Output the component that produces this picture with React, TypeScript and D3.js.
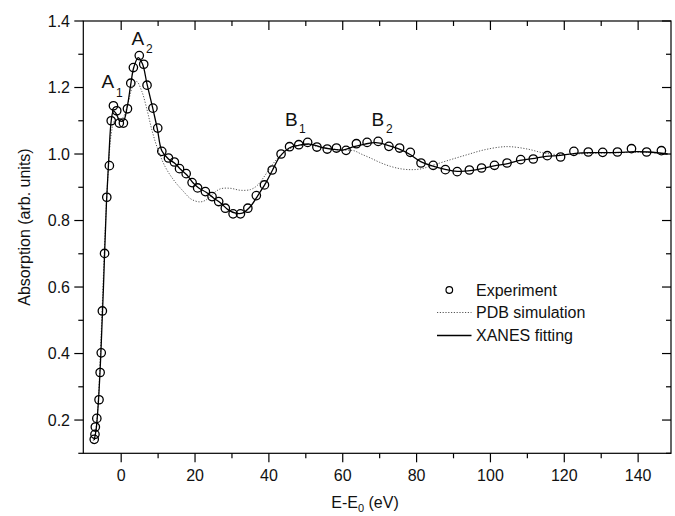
import React from "react";
import * as d3 from "d3";

const expX = [-7.3,-7.1,-7.0,-6.6,-6.0,-5.7,-5.4,-5.1,-4.5,-3.9,-3.2,-2.7,-2.1,-1.2,-0.5,0.6,1.7,2.6,3.3,4.9,6.1,7.0,8.6,9.9,11.0,12.8,14.4,15.8,17.6,19.2,20.7,22.8,24.6,26.4,28.2,30.3,32.3,34.3,36.6,38.8,40.9,43.3,45.6,48.1,50.5,53.0,55.8,58.3,60.9,63.7,66.6,69.6,72.5,75.4,78.3,81.2,84.5,87.8,91.0,94.3,97.6,101.1,104.5,108.2,111.6,115.4,119.0,122.6,126.5,130.4,134.4,138.2,142.3,146.3];
const expY = [0.142,0.157,0.179,0.205,0.261,0.343,0.402,0.528,0.701,0.870,0.965,1.100,1.145,1.130,1.093,1.093,1.136,1.213,1.260,1.296,1.270,1.207,1.138,1.078,1.008,0.988,0.976,0.956,0.941,0.914,0.898,0.887,0.872,0.857,0.837,0.820,0.820,0.837,0.875,0.907,0.952,1.000,1.022,1.028,1.035,1.021,1.015,1.018,1.011,1.031,1.035,1.038,1.023,1.018,1.005,0.973,0.966,0.953,0.947,0.952,0.958,0.966,0.973,0.983,0.985,0.995,0.991,1.008,1.006,1.005,1.006,1.016,1.006,1.010];

const fitX = [-7.3,-6.8,-6.2,-5.5,-4.8,-4.0,-3.3,-2.7,-2.1,-1.3,-0.4,0.6,1.6,2.6,3.4,4.6,5.8,7.0,8.5,9.8,11.0,12.8,14.5,16,17.8,19.5,21,23,25,27,29,31,33,35,37,39,41,43,45.5,48,51,54,57,60,63,66,69,72,75,78,81,84,88,91,95,98,101,105,108,112,115,119,123,127,131,135,139,143,148];
const fitY = [0.14,0.17,0.25,0.40,0.60,0.85,1.0,1.10,1.13,1.12,1.10,1.10,1.14,1.21,1.26,1.29,1.27,1.21,1.14,1.075,1.01,0.985,0.972,0.955,0.937,0.913,0.898,0.885,0.868,0.852,0.832,0.822,0.823,0.842,0.875,0.91,0.952,0.993,1.018,1.026,1.03,1.021,1.015,1.012,1.022,1.03,1.034,1.027,1.016,1.0,0.978,0.965,0.953,0.948,0.951,0.957,0.964,0.972,0.981,0.987,0.993,0.996,1.002,1.004,1.004,1.005,1.007,1.006,1.0];

const pdbX = [-7.8,-7.0,-6.3,-5.7,-5.0,-4.3,-3.5,-2.7,-1.8,-0.8,0.5,1.8,3.0,4.2,5.6,7.0,8.3,9.8,11.9,14.2,16.9,19.0,21.4,23,24.5,26.8,29.5,32.3,35,36.8,38.6,40.4,42.6,45,48,51,54,57,60,63,65,67.5,70,72.9,76,79,81.5,84.6,89.2,93.7,98.1,102.7,105.4,110,114.5,119,123,128,135,142,148];
const pdbY = [0.13,0.16,0.24,0.38,0.58,0.78,0.95,1.06,1.10,1.10,1.11,1.15,1.20,1.218,1.188,1.133,1.073,1.018,0.962,0.922,0.887,0.864,0.856,0.862,0.877,0.895,0.897,0.891,0.893,0.905,0.93,0.96,0.99,1.012,1.025,1.028,1.02,1.015,1.012,1.01,1.0,0.988,0.975,0.963,0.955,0.953,0.956,0.967,0.983,0.998,1.012,1.021,1.022,1.015,1.003,0.998,1.0,1.002,1.004,1.005,1.0];

const xMajor = [0, 20, 40, 60, 80, 100, 120, 140];
const xMinor = [10, 30, 50, 70, 90, 110, 130];
const yMajor = [0.2, 0.4, 0.6, 0.8, 1.0, 1.2, 1.4];
const yMinor = [0.1, 0.3, 0.5, 0.7, 0.9, 1.1, 1.3];
const legendLabels = ["Experiment", "PDB simulation", "XANES fitting"];

const W = 675, H = 516;
const L = 83.3, R = 671, T = 21, B = 453.3;
const FONT = "Arial, 'Liberation Sans', sans-serif";

export default function App() {
  const x = d3.scaleLinear().domain([-10.26, 148.9]).range([L, R]);
  const y = d3.scaleLinear().domain([0.1, 1.4]).range([B, T]);
  const mk = (xs: number[], ys: number[]) =>
    d3.line<number>().x((d, i) => x(xs[i])).y((d, i) => y(ys[i])).curve(d3.curveCatmullRom.alpha(0.5))(xs);
  const fitPath = mk(fitX, fitY) || "";
  const pdbPath = mk(pdbX, pdbY) || "";
  const MJ = 9, MN = 5;
  return (
    <svg width={W} height={H} style={{ position: "absolute", left: 0, top: 0, background: "#fff" }} fontFamily={FONT}>
      <rect x={0} y={0} width={W} height={H} fill="#fff" />
      <defs>
        <clipPath id="plot"><rect x={L} y={T} width={R - L} height={B - T} /></clipPath>
      </defs>
      <g clipPath="url(#plot)">
        <path d={pdbPath} fill="none" stroke="#444" strokeWidth={0.9} strokeDasharray="1.2 1.6" />
        <path d={fitPath} fill="none" stroke="#000" strokeWidth={1.3} />
        {expX.map((v, i) => (
          <circle key={i} cx={x(v)} cy={y(expY[i])} r={4.2} fill="none" stroke="#000" strokeWidth={1.3} />
        ))}
      </g>
      <rect x={L} y={T} width={R - L} height={B - T} fill="none" stroke="#000" strokeWidth={1.2} />
      {xMajor.map((v) => (
        <g key={"xm" + v}>
          <line x1={x(v)} x2={x(v)} y1={B} y2={B + MJ} stroke="#000" strokeWidth={1.2} />
          <line x1={x(v)} x2={x(v)} y1={T} y2={T + MJ} stroke="#000" strokeWidth={1.2} />
          <text x={x(v)} y={481} textAnchor="middle" fontSize={16} fill="#111">{v}</text>
        </g>
      ))}
      {xMinor.map((v) => (
        <g key={"xn" + v}>
          <line x1={x(v)} x2={x(v)} y1={B} y2={B + MN} stroke="#000" strokeWidth={1.2} />
          <line x1={x(v)} x2={x(v)} y1={T} y2={T + MN} stroke="#000" strokeWidth={1.2} />
        </g>
      ))}
      {yMajor.map((v) => (
        <g key={"ym" + v}>
          <line x1={L - MJ} x2={L} y1={y(v)} y2={y(v)} stroke="#000" strokeWidth={1.2} />
          <line x1={R - MJ} x2={R} y1={y(v)} y2={y(v)} stroke="#000" strokeWidth={1.2} />
          <text x={70} y={y(v) + 5.5} textAnchor="end" fontSize={16} fill="#111">{v.toFixed(1)}</text>
        </g>
      ))}
      {yMinor.map((v) => (
        <g key={"yn" + v}>
          <line x1={L - MN} x2={L} y1={y(v)} y2={y(v)} stroke="#000" strokeWidth={1.2} />
          <line x1={R - MN} x2={R} y1={y(v)} y2={y(v)} stroke="#000" strokeWidth={1.2} />
        </g>
      ))}
      <text x={365} y={508} textAnchor="middle" fontSize={16} fill="#111">
        E-E<tspan fontSize={11} dy={4}>0</tspan><tspan dy={-4}> (eV)</tspan>
      </text>
      <text transform={`translate(29.5,227) rotate(-90)`} textAnchor="middle" fontSize={16} fill="#111">
        Absorption (arb. units)
      </text>
      {/* legend */}
      <circle cx={449.3} cy={290} r={3.3} fill="none" stroke="#000" strokeWidth={1.2} />
      <line x1={437} x2={471.5} y1={312.5} y2={312.5} stroke="#444" strokeWidth={0.9} strokeDasharray="1.2 1.6" />
      <line x1={437} x2={471.5} y1={335.5} y2={335.5} stroke="#000" strokeWidth={1.3} />
      {legendLabels.map((s, i) => (
        <text key={s} x={476} y={295.5 + i * 22.7} fontSize={16} fill="#111">{s}</text>
      ))}
      {/* annotations */}
      <text x={101.5} y={88} fontSize={19} fill="#111">A</text>
      <text x={116} y={97} fontSize={12} fill="#111">1</text>
      <text x={131.5} y={45} fontSize={19} fill="#111">A</text>
      <text x={146} y={53} fontSize={12} fill="#111">2</text>
      <text x={285} y={126} fontSize={19} fill="#111">B</text>
      <text x={299} y={133} fontSize={12} fill="#111">1</text>
      <text x={371.5} y={126} fontSize={19} fill="#111">B</text>
      <text x={386} y={133} fontSize={12} fill="#111">2</text>
    </svg>
  );
}
